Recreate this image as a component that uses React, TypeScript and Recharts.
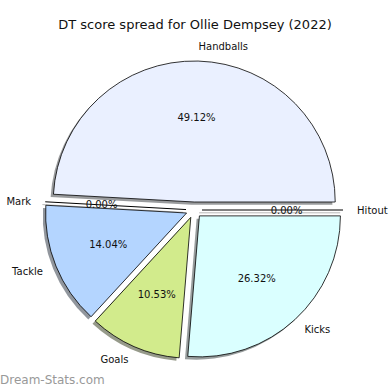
import { PieChart, Pie, Cell, Sector } from 'recharts';

// DT points by stat (57 total)
const categories = ['Handballs', 'Mark', 'Tackle', 'Goals', 'Kicks', 'Hitout'];
const points = [28, 0, 8, 6, 15, 0];
const sliceColors = ['#eaf0ff', '#cfe0ff', '#b4d5ff', '#d2eb8c', '#daffff', '#e6e6e6'];

const data = categories.map((name, i) => ({ name, value: points[i] }));

const RAD = Math.PI / 180;
const EXPLODE = 8;
const SHADOW_DX = -2.8;
const SHADOW_DY = 2.8;
const FONT = '"DejaVu Sans", sans-serif';

function offset(cx: number, cy: number, angle: number, d: number) {
  return [cx + Math.cos(-angle * RAD) * d, cy + Math.sin(-angle * RAD) * d];
}

function darken(hex: string) {
  const n = parseInt(hex.slice(1), 16);
  const r = Math.round(((n >> 16) & 255) * 0.3);
  const g = Math.round(((n >> 8) & 255) * 0.3);
  const b = Math.round((n & 255) * 0.3);
  return `rgb(${r},${g},${b})`;
}

function Wedge(props: any) {
  const { cx, cy, midAngle, startAngle, endAngle, outerRadius, fill } = props;
  const [x, y] = offset(cx, cy, midAngle, EXPLODE);
  if (Math.abs(endAngle - startAngle) < 1e-6) {
    // zero-size slice: matplotlib draws it as a radial line
    const [ex, ey] = offset(x, y, startAngle, outerRadius);
    return (
      <g>
        <line x1={x + SHADOW_DX} y1={y + SHADOW_DY} x2={ex + SHADOW_DX} y2={ey + SHADOW_DY} stroke="#888" strokeOpacity={0.6} strokeWidth={1} />
        <line x1={x} y1={y} x2={ex} y2={ey} stroke="#000" strokeWidth={1} />
      </g>
    );
  }
  return (
    <g>
      <Sector
        cx={x + SHADOW_DX}
        cy={y + SHADOW_DY}
        innerRadius={0}
        outerRadius={outerRadius}
        startAngle={startAngle}
        endAngle={endAngle}
        fill={darken(fill)}
        fillOpacity={0.55}
        stroke="none"
      />
      <Sector
        cx={x}
        cy={y}
        innerRadius={0}
        outerRadius={outerRadius}
        startAngle={startAngle}
        endAngle={endAngle}
        fill={fill}
        stroke="#000"
        strokeWidth={0.8}
      />
    </g>
  );
}

function renderLabel(props: any) {
  const { cx, cy, midAngle, outerRadius, percent, name } = props;
  const [x, y] = offset(cx, cy, midAngle, EXPLODE);
  const [lx, ly] = offset(x, y, midAngle, outerRadius * 1.1);
  const [px, py] = offset(x, y, midAngle, outerRadius * 0.6);
  const anchor = Math.cos(-midAngle * RAD) > 0 ? 'start' : 'end';
  return (
    <g>
      <text x={lx} y={ly} textAnchor={anchor} dominantBaseline="central" fontSize={10} fontFamily={FONT} fill="#111">
        {name}
      </text>
      <text x={px} y={py} textAnchor="middle" dominantBaseline="central" fontSize={10} fontFamily={FONT} fill="#111">
        {(percent * 100).toFixed(2)}%
      </text>
    </g>
  );
}

export default function App() {
  return (
    <div style={{ position: 'absolute', left: 0, top: 0, width: 390, height: 390, background: '#fff' }}>
      <div
        style={{
          position: 'absolute',
          top: 17,
          left: 0,
          width: 390,
          textAlign: 'center',
          fontFamily: FONT,
          fontSize: 13,
          lineHeight: '16px',
          color: '#111',
        }}
      >
        DT score spread for Ollie Dempsey (2022)
      </div>
      <PieChart width={390} height={390} margin={{ top: 0, right: 0, bottom: 0, left: 0 }}>
        <Pie
          data={data}
          dataKey="value"
          nameKey="name"
          cx={194}
          cy={210}
          outerRadius={141}
          startAngle={0}
          endAngle={360}
          isAnimationActive={false}
          labelLine={false}
          label={renderLabel}
          shape={Wedge}
          activeShape={Wedge}
          stroke="#000"
        >
          {data.map((entry, i) => (
            <Cell key={entry.name} fill={sliceColors[i]} />
          ))}
        </Pie>
      </PieChart>
      <div
        style={{
          position: 'absolute',
          left: 0,
          top: 372,
          fontFamily: FONT,
          fontSize: 12,
          lineHeight: '16px',
          color: '#999',
        }}
      >
        Dream-Stats.com
      </div>
    </div>
  );
}
